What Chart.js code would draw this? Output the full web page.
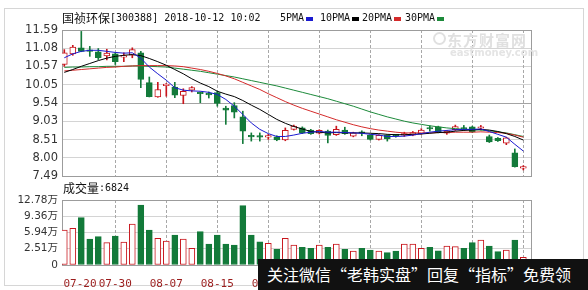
<!DOCTYPE html>
<html>
<head>
<meta charset="utf-8">
<script src="https://cdn.jsdelivr.net/npm/chart.js@4.4.0/dist/chart.umd.min.js"></script>
<style>
  body { margin: 0; background: #fff; }
  #wrap { position: relative; width: 588px; height: 290px; overflow: hidden; background: #fff; }
  #frame { position: absolute; left: 4px; top: 8px; width: 580px; height: 278px; border: 1px solid #d6d6d6; box-sizing: border-box; }
  canvas { position: absolute; left: 0; }
  .cjk { position: absolute; font: 12px "Noto Sans CJK SC", sans-serif; line-height: 14px; color: #111; white-space: nowrap; }
  .mono { position: absolute; font: 10px "DejaVu Sans Mono", monospace; line-height: 14px; color: #111; white-space: nowrap; }
  .sq { position: absolute; width: 7px; height: 4px; top: 17px; }
  #wm1 { position: absolute; left: 447px; top: 29px; font: bold 15px "Noto Sans CJK SC", sans-serif; color: #e0e0e0; letter-spacing: 1px; }
  #wm2 { position: absolute; left: 450px; top: 47px; font: bold 10px "DejaVu Sans", sans-serif; color: #e4e4e4; }
  #logo { position: absolute; left: 433px; top: 32px; width: 9px; height: 9px; border: 2px solid #e0e0e0; border-radius: 50%; }
  #banner { position: absolute; left: 258px; top: 259px; width: 330px; height: 31px; background: #111; color: #fff;
            font: 16px "Noto Sans CJK SC", sans-serif; line-height: 31px; padding-left: 9px; box-sizing: border-box;
            white-space: nowrap; overflow: hidden; }
</style>
</head>
<body>
<div id="wrap">
  <div id="frame"></div>
  <canvas id="priceCanvas" width="588" height="190" style="top:0"></canvas>
  <canvas id="volCanvas" width="588" height="110" style="top:180px"></canvas>

  <div class="cjk" style="left:62px; top:11px">国祯环保</div>
  <div class="mono" style="left:110px; top:11px">[300388] 2018-10-12 10:02</div>
  <div class="mono" style="left:280px; top:11px">5PMA</div><div class="sq" style="left:306px; background:#1a1ad0"></div>
  <div class="mono" style="left:320px; top:11px">10PMA</div><div class="sq" style="left:352px; background:#000"></div>
  <div class="mono" style="left:362px; top:11px">20PMA</div><div class="sq" style="left:394px; background:#d42a2a"></div>
  <div class="mono" style="left:405px; top:11px">30PMA</div><div class="sq" style="left:437px; background:#1c8a3a"></div>

  <div class="cjk" style="left:63px; top:181px">成交量</div>
  <div class="mono" style="left:99px; top:181px">:6824</div>

  <div id="logo"></div>
  <div id="wm1">东方财富网</div>
  <div id="wm2">eastmoney.com</div>

  <div id="banner">关注微信“老韩实盘”回复“指标”免费领</div>
</div>

<script>
const dates = ['07-20','07-23','07-24','07-25','07-26','07-27','07-30','07-31','08-01','08-02',
               '08-03','08-06','08-07','08-08','08-09','08-10','08-13','08-14','08-15','08-16',
               '08-17','08-20','08-21','08-22','08-23','08-24','08-27','08-28','08-29','08-30',
               '08-31','09-03','09-04','09-05','09-06','09-07','09-10','09-11','09-12','09-13',
               '09-14','09-17','09-18','09-19','09-20','09-21','09-25','09-26','09-27','09-28',
               '10-08','10-09','10-10','10-11','10-12'];

const openP  = [10.62,10.92,11.09,11.00,10.98,10.86,10.92,10.83,10.88,10.95,
                10.11,9.71,10.03,9.99,9.75,9.90,9.84,9.79,9.83,9.40,
                9.47,9.15,8.60,8.60,8.58,8.59,8.50,8.80,8.84,8.78,
                8.69,8.75,8.65,8.78,8.61,8.71,8.63,8.52,8.63,8.64,
                8.64,8.64,8.68,8.83,8.87,8.69,8.79,8.85,8.87,8.83,
                8.60,8.55,8.41,8.14,7.71];
const closeP = [10.95,11.11,10.99,10.99,10.81,10.94,10.70,10.86,11.04,10.20,
                9.72,9.92,10.07,9.76,9.87,9.97,9.80,9.77,9.53,9.34,
                9.28,8.75,8.59,8.58,8.60,8.50,8.77,8.89,8.70,8.68,
                8.77,8.63,8.80,8.68,8.70,8.69,8.52,8.63,8.54,8.62,
                8.66,8.71,8.78,8.81,8.72,8.75,8.88,8.81,8.73,8.86,
                8.45,8.48,8.56,7.75,7.73];
const highP  = [11.04,11.16,11.55,11.13,11.07,11.05,10.95,10.95,11.09,10.99,
                10.27,10.12,10.09,10.12,9.94,10.00,9.85,9.85,9.87,9.45,
                9.55,9.31,8.70,8.70,8.66,8.62,8.84,8.92,8.87,8.80,
                8.79,8.78,8.89,8.86,8.72,8.76,8.65,8.65,8.65,8.66,
                8.72,8.74,8.82,8.90,8.89,8.77,8.92,8.91,8.89,8.91,
                8.64,8.57,8.58,8.25,7.78];
const lowP   = [10.57,10.88,10.98,10.85,10.76,10.75,10.62,10.70,10.81,9.97,
                9.71,9.70,9.73,9.69,9.52,9.85,9.55,9.68,9.45,8.94,
                9.12,8.40,8.47,8.47,8.52,8.48,8.48,8.78,8.68,8.66,
                8.67,8.42,8.63,8.66,8.59,8.62,8.50,8.50,8.47,8.58,
                8.60,8.62,8.66,8.75,8.70,8.66,8.77,8.77,8.71,8.78,
                8.43,8.46,8.37,7.74,7.66];

const ma5  = [10.81,10.92,10.99,11.02,11.02,10.99,10.96,10.94,10.95,10.80,
              10.55,10.36,10.18,9.97,9.90,9.88,9.87,9.84,9.78,9.64,
              9.45,9.22,8.98,8.80,8.68,8.60,8.60,8.64,8.69,8.72,
              8.74,8.72,8.72,8.71,8.70,8.69,8.66,8.64,8.60,8.60,
              8.61,8.64,8.68,8.72,8.75,8.77,8.79,8.80,8.80,8.81,
              8.74,8.66,8.58,8.38,8.19];
const ma10 = [10.40,10.48,10.57,10.65,10.73,10.80,10.85,10.88,10.90,10.87,
              10.79,10.70,10.60,10.48,10.36,10.22,10.10,10.00,9.87,9.79,
              9.72,9.61,9.48,9.36,9.22,9.08,8.97,8.88,8.81,8.74,
              8.72,8.70,8.71,8.70,8.70,8.70,8.69,8.68,8.66,8.65,
              8.65,8.66,8.67,8.69,8.71,8.72,8.75,8.77,8.78,8.80,
              8.78,8.74,8.68,8.60,8.50];
const ma20 = [10.44,10.46,10.48,10.50,10.52,10.54,10.55,10.57,10.58,10.59,
              10.59,10.59,10.59,10.58,10.56,10.52,10.48,10.43,10.37,10.30,
              10.22,10.12,10.02,9.92,9.80,9.69,9.58,9.48,9.39,9.31,
              9.23,9.15,9.07,9.00,8.93,8.87,8.82,8.78,8.75,8.72,
              8.70,8.70,8.70,8.70,8.71,8.71,8.72,8.72,8.72,8.73,
              8.72,8.71,8.69,8.64,8.58];
const ma30 = [10.54,10.55,10.55,10.56,10.56,10.57,10.57,10.57,10.58,10.58,
              10.57,10.56,10.55,10.52,10.49,10.46,10.43,10.39,10.35,10.31,
              10.27,10.22,10.17,10.12,10.07,10.02,9.96,9.90,9.84,9.78,
              9.72,9.66,9.59,9.52,9.45,9.37,9.29,9.22,9.15,9.09,
              9.03,8.98,8.94,8.90,8.87,8.84,8.82,8.80,8.79,8.78,
              8.76,8.73,8.70,8.65,8.60];

// 成交量, 万
const volume = [6.88,7.21,9.30,5.11,5.57,4.39,5.70,4.52,8.06,11.80,
                6.88,5.24,4.72,5.90,5.11,3.28,6.55,4.13,5.90,4.13,
                3.93,11.66,5.90,4.58,4.26,3.08,5.24,3.93,3.47,3.28,
                3.93,3.47,4.13,3.08,2.75,3.28,2.95,2.75,2.42,2.75,
                4.13,4.13,3.28,3.47,2.81,3.74,3.60,3.28,4.39,4.92,
                3.74,2.62,2.95,4.92,1.51];

const priceLabels = ['7.49','8.00','8.51','9.03','9.54','10.05','10.57','11.08','11.59'];
const volLabels = ['0','2.51万','5.94万','9.36万','12.78万'];
const tickDays = [0, 6, 12, 18, 24, 30, 36, 42, 48, 54];

const red = '#c8161d';
const green = '#137a3a';
const up = closeP.map((c, i) => c >= openP[i]);
const candleColor = up.map(u => u ? red : green);
const fillColor = up.map(u => u ? '#ffffff' : green);

const xMin = -0.27, xMax = 55.02;

// frame box + dashed day lines, placed by the x scale
const boxPlugin = {
    id: 'boxPlugin',
    beforeDatasetsDraw(chart) {
        const { ctx, chartArea: a, scales } = chart;
        ctx.save();
        ctx.strokeStyle = '#a8a8a8';
        ctx.lineWidth = 1;
        ctx.setLineDash([3, 2]);
        tickDays.forEach(d => {
            if (d === 0) return;
            const px = Math.round(scales.x.getPixelForValue(d)) + 0.5;
            ctx.beginPath();
            ctx.moveTo(px, a.top);
            ctx.lineTo(px, a.bottom);
            ctx.stroke();
        });
        ctx.setLineDash([]);
        ctx.strokeStyle = '#9c9c9c';
        ctx.strokeRect(Math.round(a.left) + 0.5, Math.round(a.top) + 0.5, Math.round(a.width) - 1, Math.round(a.height));
        ctx.restore();
    }
};

const xScale = (showLabels) => ({
    type: 'linear',
    min: xMin,
    max: xMax,
    offset: false,
    afterBuildTicks: (scale) => {
        scale.ticks = tickDays.map(d => ({ value: d === 0 ? 1.85 : d }));
    },
    afterFit: (scale) => { scale.height = showLabels ? 25 : 0; },
    grid: { display: false },
    border: { display: false },
    ticks: {
        display: showLabels,
        autoSkip: false,
        maxRotation: 0,
        padding: 5,
        color: '#9b1c1c',
        font: { family: 'DejaVu Sans Mono', size: 11 },
        callback: (v, k) => dates[tickDays[k]]
    }
});

Chart.defaults.font.family = 'DejaVu Sans';

const line = (label, values, color) => ({
    type: 'line',
    label: label,
    data: values.map((v, i) => ({ x: i, y: v })),
    borderColor: color,
    borderWidth: 1,
    pointRadius: 0,
    tension: 0
});

new Chart(document.getElementById('priceCanvas'), {
    type: 'bar',
    data: {
        datasets: [
            line('5PMA', ma5, '#1a1ad0'),
            line('10PMA', ma10, '#000000'),
            line('20PMA', ma20, '#d42a2a'),
            line('30PMA', ma30, '#1c8a3a'),
            {
                label: 'body',
                data: openP.map((o, i) => ({ x: i, y: [o, closeP[i]] })),
                backgroundColor: fillColor,
                borderColor: candleColor,
                borderWidth: 1,
                borderSkipped: false,
                barThickness: 6,
                minBarLength: 1.5,
                grouped: false
            },
            {
                label: 'wick',
                data: lowP.map((l, i) => ({ x: i, y: [l, highP[i]] })),
                backgroundColor: candleColor,
                barThickness: 1,
                grouped: false
            }
        ]
    },
    options: {
        responsive: false,
        animation: false,
        events: [],
        layout: { padding: { top: 30, bottom: 14, left: 0, right: 56 } },
        plugins: { legend: { display: false }, tooltip: { enabled: false } },
        scales: {
            x: xScale(false),
            y: {
                min: 7.49,
                max: 11.59,
                afterBuildTicks: (scale) => {
                    scale.ticks = priceLabels.map(t => ({ value: parseFloat(t) }));
                },
                afterFit: (scale) => { scale.width = 62; },
                grid: {
                    color: (c) => c.tick && c.tick.value === 9.54 ? '#a4a4a4' : '#d4d4d4',
                    drawTicks: false
                },
                border: { display: false },
                ticks: {
                    padding: 4,
                    color: '#333',
                    font: { size: 11.5 },
                    callback: (v, k) => priceLabels[k]
                }
            }
        }
    },
    plugins: [boxPlugin]
});

const volMax = 12.78;

new Chart(document.getElementById('volCanvas'), {
    type: 'bar',
    data: {
        datasets: [{
            label: '成交量',
            data: volume.map((v, i) => ({ x: i, y: v })),
            backgroundColor: fillColor,
            borderColor: candleColor,
            borderWidth: 1,
            borderSkipped: false,
            barThickness: 6,
            grouped: false
        }]
    },
    options: {
        responsive: false,
        animation: false,
        events: [],
        layout: { padding: { top: 20, bottom: 0, left: 0, right: 56 } },
        plugins: { legend: { display: false }, tooltip: { enabled: false } },
        scales: {
            x: xScale(true),
            y: {
                min: 0,
                max: volMax,
                afterBuildTicks: (scale) => {
                    scale.ticks = volLabels.map((t, k) => ({ value: volMax * k / (volLabels.length - 1) }));
                },
                afterFit: (scale) => { scale.width = 62; },
                grid: { color: '#d4d4d4', drawTicks: false },
                border: { display: false },
                ticks: {
                    padding: 4,
                    color: '#333',
                    font: { family: 'DejaVu Sans, Noto Sans CJK SC', size: 10.5 },
                    callback: (v, k) => volLabels[k]
                }
            }
        }
    },
    plugins: [boxPlugin]
});
</script>
</body>
</html>
